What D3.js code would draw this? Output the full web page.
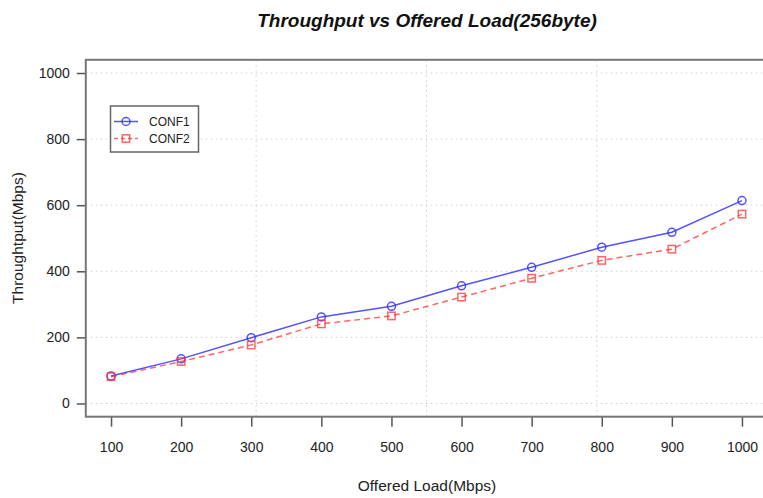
<!DOCTYPE html>
<html><head><meta charset="utf-8">
<script src="https://cdn.jsdelivr.net/npm/d3@7"></script>
<style>body{margin:0;background:#fff}svg{display:block}</style>
</head><body>
<svg id="c" width="763" height="498"></svg>
<script>
const loads = [100,200,300,400,500,600,700,800,900,1000];
const conf1 = [83,135,199,262,294,356,412,473,518,614];
const conf2 = [81,127,177,241,265,322,379,433,467,573];
const yTicks = [0,200,400,600,800,1000];
const xGrid = [307,550,793];
const seriesNames = ["CONF1","CONF2"];

const svg = d3.select("#c");
const font = "'Liberation Sans', Arial, sans-serif";
const x = d3.scaleLinear().domain([64,1036]).range([85.8,767.2]);
const y = d3.scaleLinear().domain([-40,1040]).range([416.7,59.8]);

// grid
const g = svg.append("g");
g.selectAll("line.h").data(yTicks).join("line")
 .attr("x1",x(64)).attr("x2",x(1036)).attr("y1",d=>y(d)).attr("y2",d=>y(d))
 .attr("stroke","#cfcfcf").attr("stroke-width",1).attr("stroke-dasharray","1.5,3.5");
g.selectAll("line.v").data(xGrid).join("line")
 .attr("y1",y(-40)).attr("y2",y(1040)).attr("x1",d=>x(d)).attr("x2",d=>x(d))
 .attr("stroke","#cfcfcf").attr("stroke-width",1).attr("stroke-dasharray","1.5,3.5");

// axes
const xa = svg.append("g").attr("transform",`translate(0,${y(-40)})`)
 .call(d3.axisBottom(x).tickValues(loads).tickFormat(d3.format("d")).tickSize(10).tickPadding(15).tickSizeOuter(0));
const ya = svg.append("g").attr("transform",`translate(${x(64)},0)`)
 .call(d3.axisLeft(y).tickValues(yTicks).tickFormat(d3.format("d")).tickSize(9).tickPadding(7).tickSizeOuter(0));
[xa,ya].forEach(a=>{
  a.select(".domain").remove();
  a.selectAll(".tick line").attr("stroke","#555").attr("stroke-width",1.5);
  a.selectAll(".tick text").attr("font-family",font).attr("font-size",14).attr("fill","#222");
});

// box
svg.append("rect").attr("x",x(64)).attr("y",y(1040))
 .attr("width",x(1036)-x(64)).attr("height",y(-40)-y(1040))
 .attr("fill","none").attr("stroke","#777").attr("stroke-width",2);

// series
const series = [
 {vals:conf1,color:"rgba(40,40,255,0.8)",dash:null,shape:"circle"},
 {vals:conf2,color:"rgba(255,50,50,0.75)",dash:"6,4",shape:"square"}
];
const line = d3.line().x(d=>x(d[0])).y(d=>y(d[1]));
function marker(sel,shape,color){
  if(shape==="circle"){
    sel.append("circle").attr("r",4).attr("fill","none").attr("stroke",color).attr("stroke-width",1.5);
  } else {
    sel.append("rect").attr("x",-3.7).attr("y",-3.7).attr("width",7.4).attr("height",7.4)
      .attr("fill","none").attr("stroke",color).attr("stroke-width",1.5);
  }
}
series.forEach(s=>{
  const pts = loads.map((l,i)=>[l,s.vals[i]]);
  svg.append("path").attr("d",line(pts)).attr("fill","none").attr("stroke",s.color)
   .attr("stroke-width",1.5).attr("stroke-dasharray",s.dash);
  svg.append("g").selectAll("g").data(pts).join("g")
   .attr("transform",d=>`translate(${x(d[0])},${y(d[1])})`)
   .each(function(){ marker(d3.select(this),s.shape,s.color); });
});

// legend
const lg = svg.append("g");
lg.append("rect").attr("x",110.5).attr("y",106).attr("width",88).attr("height",46)
 .attr("fill","#fff").attr("stroke","#666").attr("stroke-width",1.5);
seriesNames.forEach((n,i)=>{
  const s = series[i], yy = 121.5 + i*17;
  lg.append("line").attr("x1",114).attr("x2",138).attr("y1",yy).attr("y2",yy)
   .attr("stroke",s.color).attr("stroke-width",1.5).attr("stroke-dasharray",s.dash?"4,3":null);
  const m = lg.append("g").attr("transform",`translate(126,${yy})`);
  marker(m,s.shape,s.color);
  lg.append("text").attr("x",149).attr("y",yy+4.5).text(n)
   .attr("font-family",font).attr("font-size",12).attr("fill","#222");
});

// titles
svg.append("text").attr("x",427).attr("y",27).attr("text-anchor","middle")
 .attr("font-family",font).attr("font-size",19).attr("font-weight","bold").attr("font-style","italic")
 .attr("fill","#111").text("Throughput vs Offered Load(256byte)");
svg.append("text").attr("x",427).attr("y",491).attr("text-anchor","middle")
 .attr("font-family",font).attr("font-size",15.5).attr("fill","#222").text("Offered Load(Mbps)");
svg.append("text").attr("transform","translate(23,238) rotate(-90)").attr("text-anchor","middle")
 .attr("font-family",font).attr("font-size",15.5).attr("fill","#222").text("Throughtput(Mbps)");
</script>
</body></html>
